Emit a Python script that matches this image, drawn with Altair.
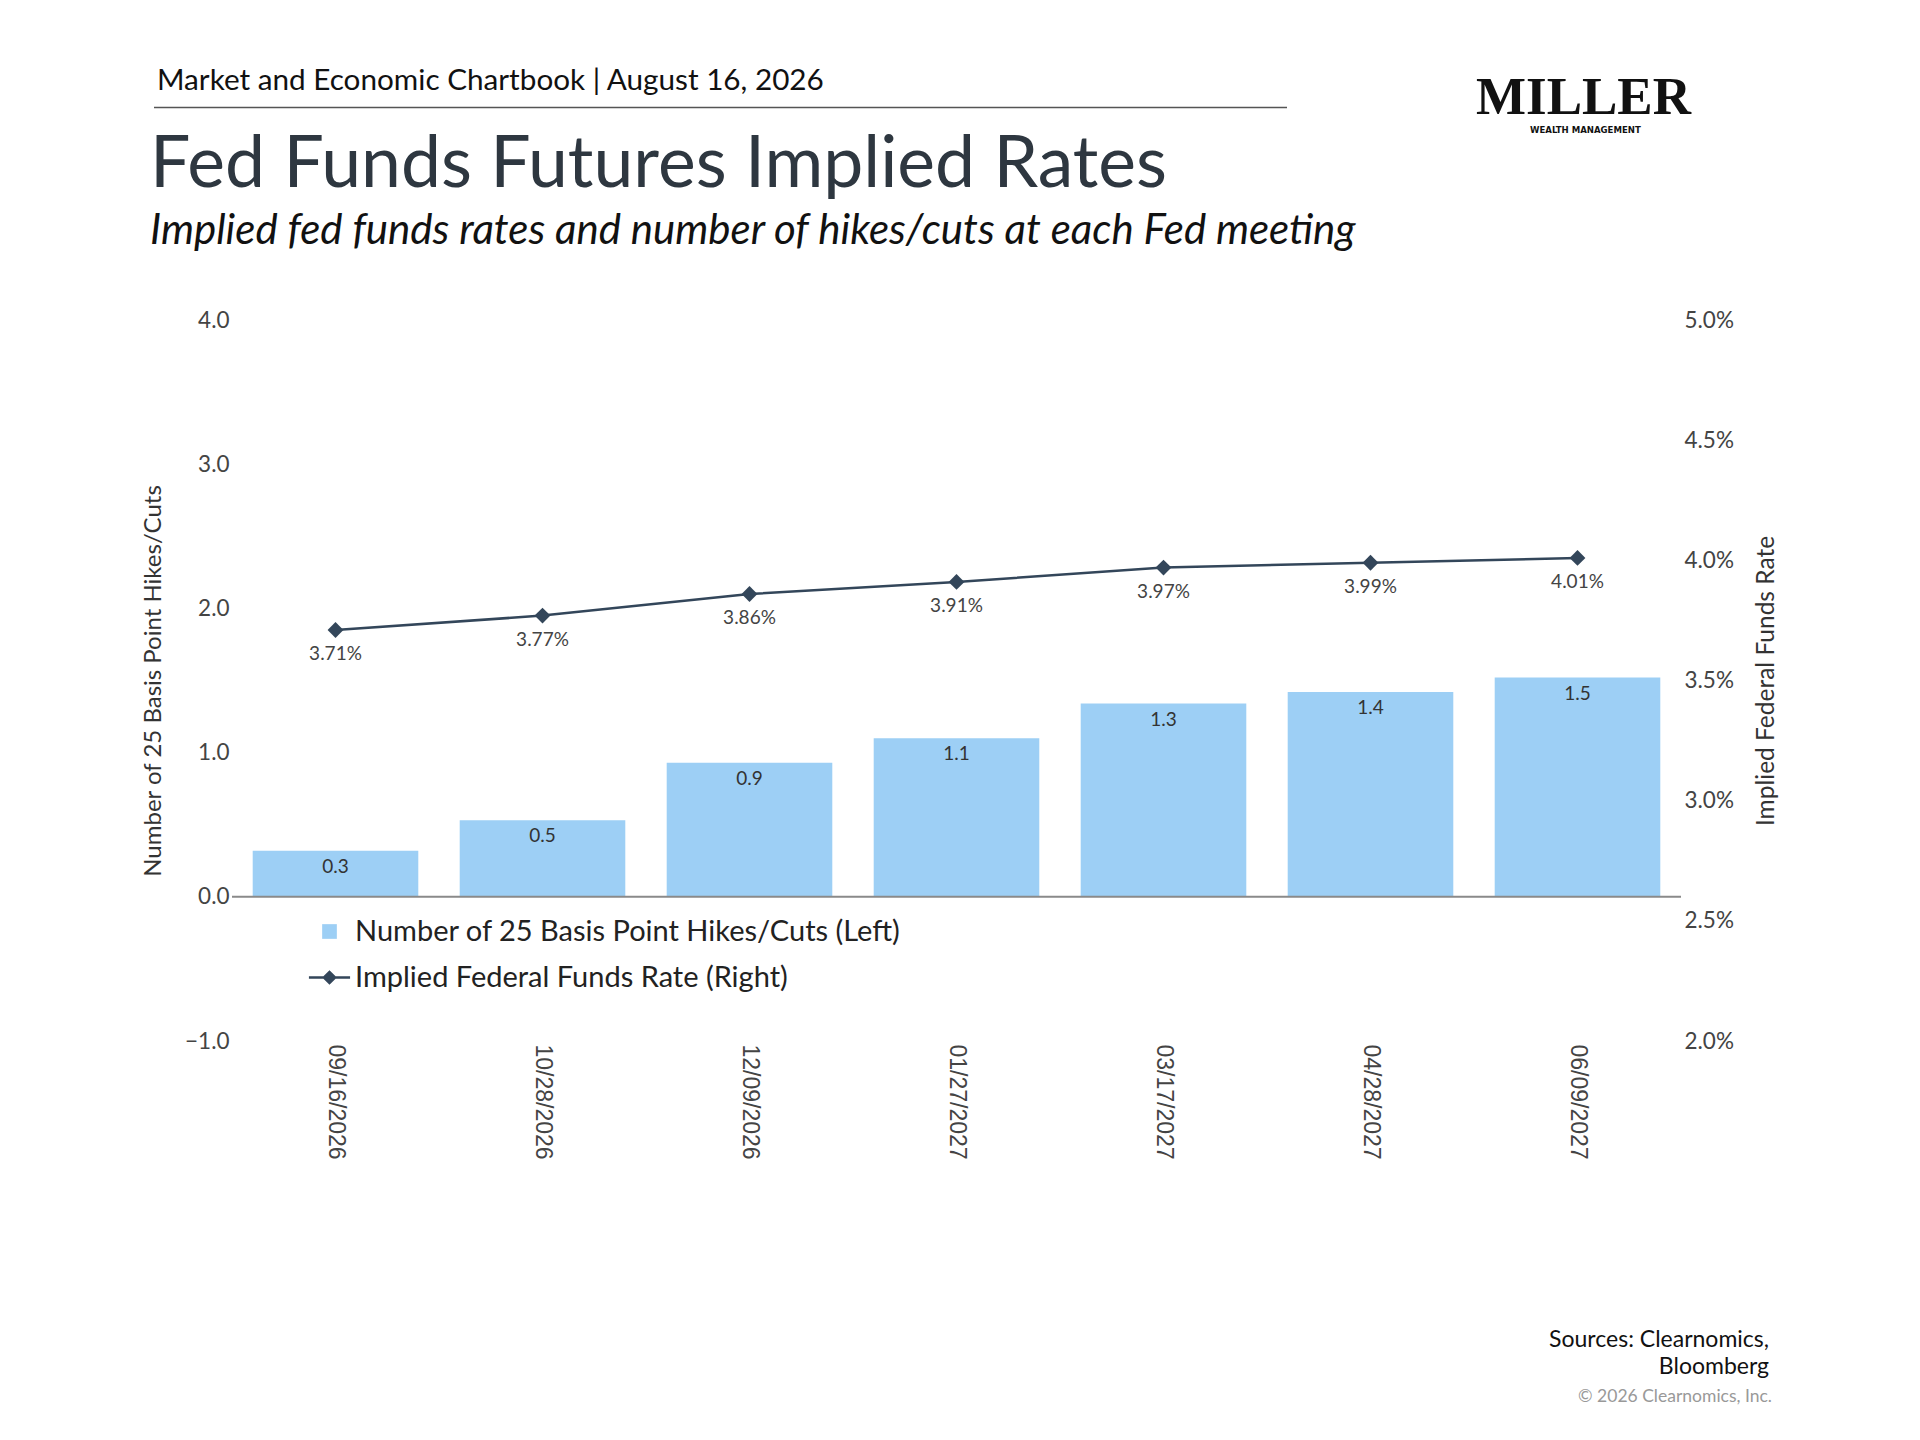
import altair as alt
import pandas as pd

# Fed meeting dates and values
meetings = ["09/16/2026", "10/28/2026", "12/09/2026", "01/27/2027",
            "03/17/2027", "04/28/2027", "06/09/2027"]
hikes = [0.32, 0.53, 0.93, 1.10, 1.34, 1.42, 1.52]
rates = [3.71, 3.77, 3.86, 3.91, 3.97, 3.99, 4.01]

left_ticks = [-1.0, 0.0, 1.0, 2.0, 3.0, 4.0]
right_ticks = [2.0, 2.5, 3.0, 3.5, 4.0, 4.5, 5.0]

bar_name = "Number of 25 Basis Point Hikes/Cuts (Left)"
line_name = "Implied Federal Funds Rate (Right)"
left_title = "Number of 25 Basis Point Hikes/Cuts"
right_title = "Implied Federal Funds Rate"

header = "Market and Economic Chartbook | August 16, 2026"
title = "Fed Funds Futures Implied Rates"
subtitle = "Implied fed funds rates and number of hikes/cuts at each Fed meeting"
logo_main = "MILLER"
logo_sub = "WEALTH MANAGEMENT"
sources = ["Sources: Clearnomics,", "Bloomberg"]
copyright_note = "© 2026 Clearnomics, Inc."

FONT = "Lato"
BAR_COLOR = "#9DCFF5"
LINE_COLOR = "#33465A"
W, H = 1449, 721

df = pd.DataFrame({"meeting": meetings, "hikes": hikes, "rate": rates})

x_enc = alt.X(
    "meeting:N", sort=meetings,
    scale=alt.Scale(paddingInner=0.2, paddingOuter=0.1),
    axis=alt.Axis(title=None, labelAngle=90, domain=False, ticks=False,
                  labelPadding=3, labelFont="Liberation Sans",
                  labelFontSize=23, labelColor="#444"),
)

left_scale = alt.Scale(domain=[-1, 4], nice=False, zero=False)
right_scale = alt.Scale(domain=[2, 5], nice=False, zero=False)

left_axis = alt.Axis(
    values=left_ticks, format=".1f", grid=False, domain=False, ticks=False,
    labelPadding=3, labelFontSize=22.5, labelColor="#444", title=left_title,
    titleFontSize=24, titleFontWeight="normal", titleColor="#333",
    titleAngle=270, titleX=-79, titleY=H / 2, titleAlign="center",
    titleBaseline="middle")
right_axis = alt.Axis(
    orient="right", values=right_ticks,
    labelExpr="format(datum.value, '.1f') + '%'", grid=False, domain=False,
    ticks=False, labelPadding=3, labelFontSize=22.5, labelColor="#444",
    title=right_title, titleFontSize=24.5, titleFontWeight="normal",
    titleColor="#333", titleAngle=270, titleX=85, titleY=H / 2,
    titleAlign="center", titleBaseline="middle")

y_left = alt.Y("hikes:Q", scale=left_scale, axis=left_axis)
y_right = alt.Y("rate:Q", scale=right_scale, axis=right_axis)

bars = alt.Chart(df).mark_bar(color=BAR_COLOR).encode(x=x_enc, y=y_left)

bar_text = alt.Chart(df).mark_text(
    baseline="top", dy=7, fontSize=19, color="#333", font=FONT
).encode(x=x_enc, y=y_left, text=alt.Text("hikes:Q", format=".1f"))

zero_rule = alt.Chart(alt.Data(values=[{"hikes": 0}])).mark_rule(
    color="#8a8a8a", strokeWidth=2
).encode(y=y_left)

# empty layer that only carries the combined legend
legend_holder = alt.Chart(
    pd.DataFrame({"meeting": meetings[:2], "hikes": hikes[:2],
                  "series": [bar_name, line_name]})
).transform_filter("false").mark_point(filled=True, opacity=1).encode(
    x=x_enc,
    y=y_left,
    color=alt.Color("series:N",
                    scale=alt.Scale(domain=[bar_name, line_name],
                                    range=[BAR_COLOR, LINE_COLOR]),
                    legend=alt.Legend(title=None, orient="none",
                                      legendX=83, legendY=597,
                                      labelFontSize=29, labelColor="#222",
                                      labelFont=FONT, labelOffset=11,
                                      labelLimit=0,
                                      rowPadding=16, symbolSize=216,
                                      symbolStrokeWidth=0,
                                      symbolOpacity=1, padding=0)),
    shape=alt.Shape("series:N",
                    scale=alt.Scale(
                        domain=[bar_name, line_name],
                        range=["square",
                               "M-2.8,-0.17L2.8,-0.17L2.8,0.17L-2.8,0.17Z"
                               "M0,-1L1,0L0,1L-1,0Z"]),
                    legend=None),
)

left = alt.layer(bars, bar_text, zero_rule, legend_holder)

line = alt.Chart(df).mark_line(color=LINE_COLOR, strokeWidth=2.5).encode(
    x=x_enc, y=y_right)
points = alt.Chart(df).mark_point(
    shape="diamond", filled=True, size=250, color=LINE_COLOR, opacity=1
).encode(x=x_enc, y=y_right)
line_text = alt.Chart(df).transform_calculate(
    label="format(datum.rate, '.2f') + '%'"
).mark_text(baseline="top", dy=15, fontSize=19, color="#444", font=FONT).encode(
    x=x_enc, y=y_right, text="label:N")

right = alt.layer(line, points, line_text)


def label(text, x, y, size, **kw):
    style = dict(font=FONT, fontSize=size, align="left", baseline="alphabetic",
                 color="#222")
    style.update(kw)
    return alt.Chart(alt.Data(values=[{}])).mark_text(text=text, **style).encode(
        x=alt.value(x), y=alt.value(y))


header_text = label(header, -75, -230, 29.7, color="#111")
header_rule = alt.Chart(alt.Data(values=[{}])).mark_rule(
    color="#555", strokeWidth=1.5
).encode(x=alt.value(-78), x2=alt.value(1055), y=alt.value(-212.5))
title_text = label(title, -82, -133, 71.5, color="#2E3740")
subtitle_text = label(subtitle, -82, -76, 42, fontStyle="italic", color="#111")
logo_text = label(logo_main, 1244, -206, 53, font="Liberation Serif",
                  fontWeight="bold", color="#111")
logo_sub_text = label(logo_sub, 1298, -187, 9.5, font="DejaVu Sans Condensed",
                      fontWeight="bold", color="#111")
src1 = label(sources[0], 1537, 1027, 23, align="right", color="#111")
src2 = label(sources[1], 1537, 1054, 23, align="right", color="#111")
copy_text = label(copyright_note, 1540, 1082, 17.5, align="right", color="#999")

chart = alt.layer(
    left, right, header_text, header_rule, title_text, subtitle_text,
    logo_text, logo_sub_text, src1, src2, copy_text
).resolve_scale(y="independent").properties(
    width=W, height=H,
    autosize=alt.AutoSizeParams(type="none"),
    padding={"left": 224, "top": 312, "right": 220, "bottom": 380},
).configure_view(stroke=None).configure_axis(labelFont=FONT, titleFont=FONT)

chart.save("out.html", embed_options={"renderer": "svg", "actions": False})
